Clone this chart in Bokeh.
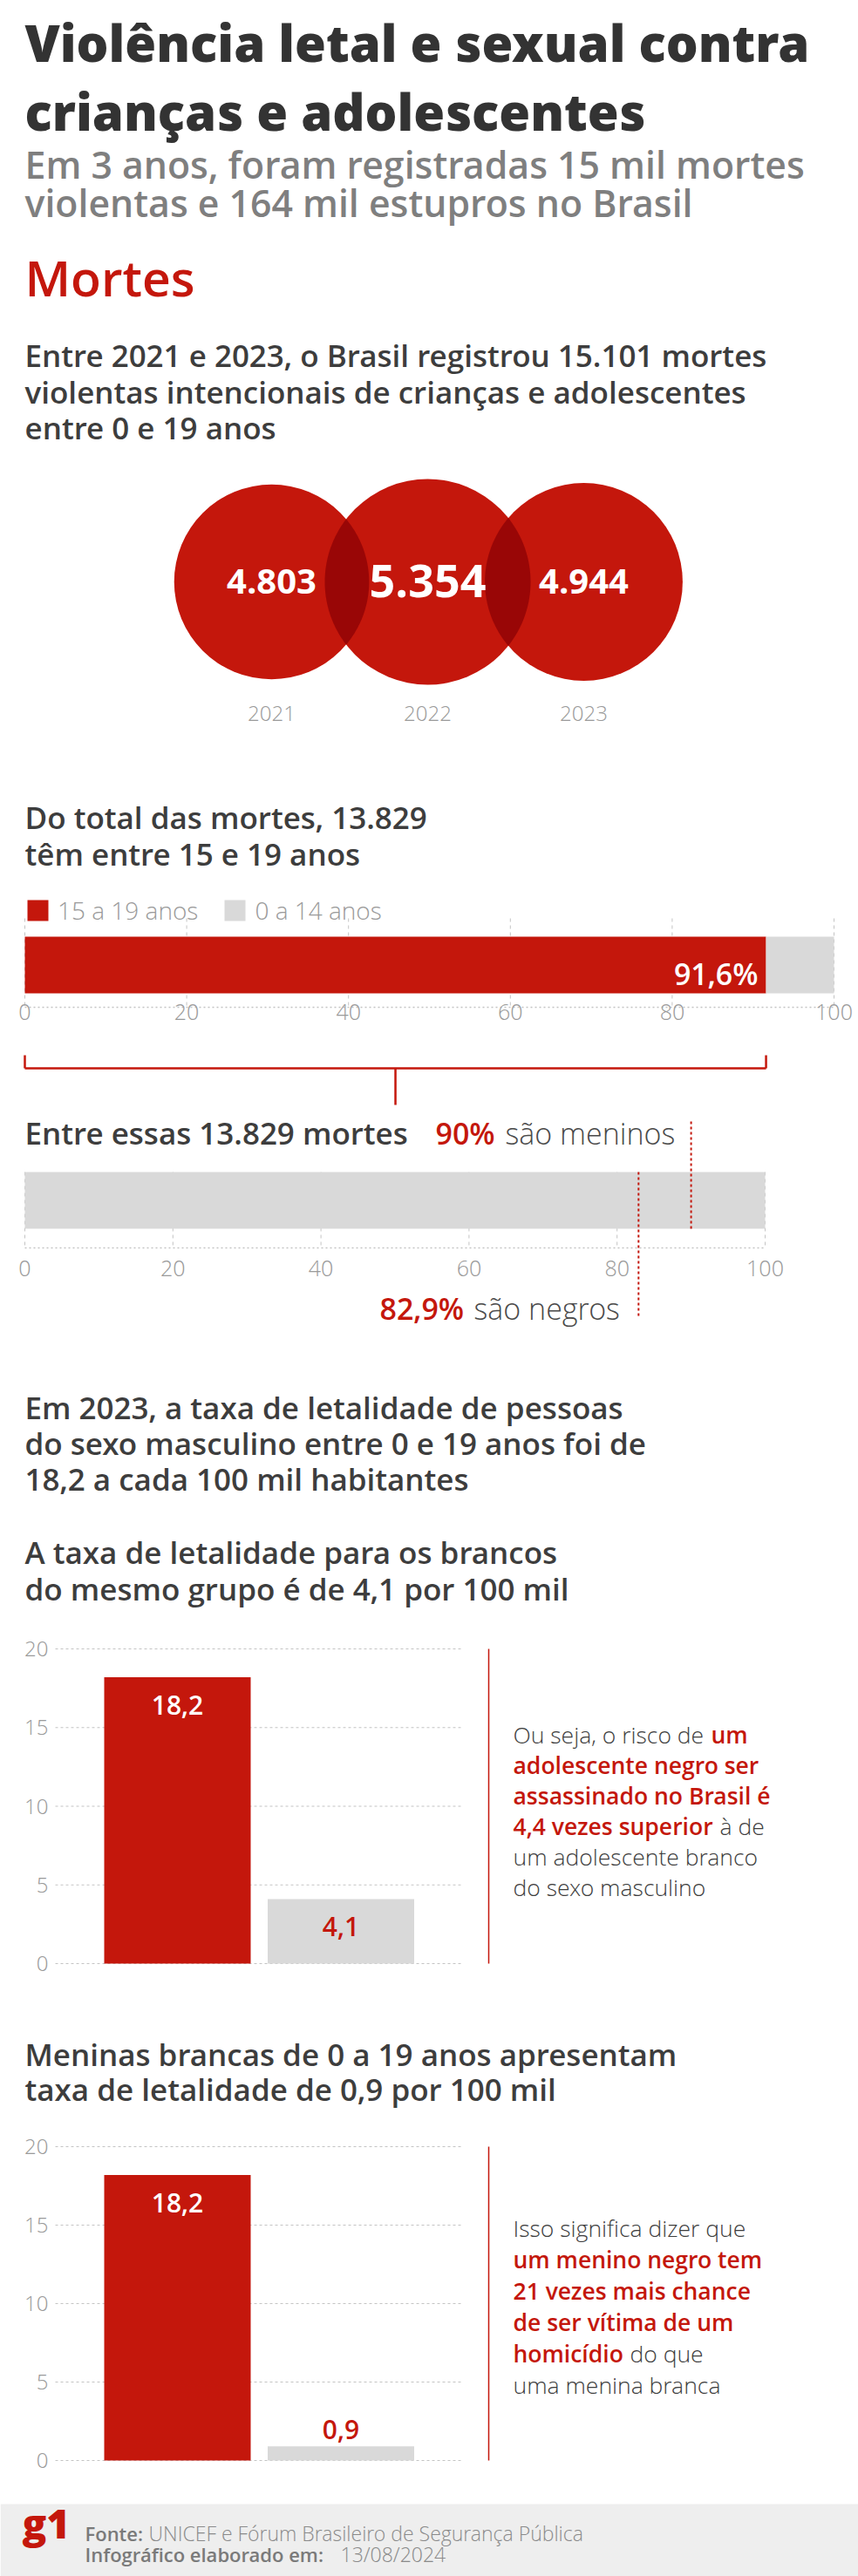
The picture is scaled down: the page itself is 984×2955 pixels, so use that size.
import numpy as np
from bokeh.plotting import figure
from bokeh.models import Range1d, LinearAxis, FixedTicker, Legend, LegendItem
from bokeh.core.properties import value
from bokeh.embed import file_html
from bokeh.resources import INLINE

# ---------------- data ----------------
anos = ["2021", "2022", "2023"]
mortes_por_ano = [4803, 5354, 4944]

faixas_etarias = ["15 a 19 anos", "0 a 14 anos"]
pct_faixas = [91.6, 8.4]

pct_total = [100.0]
pct_meninos = [90.0]
pct_negros = [82.9]
ticks_pct = [0, 20, 40, 60, 80, 100]

grupos_masculino = ["Negros", "Brancos"]
taxa_masculino = [18.2, 4.1]
grupos_comparacao = ["Meninos negros", "Meninas brancas"]
taxa_comparacao = [18.2, 0.9]
ticks_taxa = [0, 5, 10, 15, 20]

# ---------------- style ----------------
RED = "#C4170C"
LENS = "#990606"
DARK = "#333333"
MID = "#3d3d3d"
SUB = "#7f7f7f"
LIGHT = "#9a9a9a"
BARGRAY = "#D9D9D9"
GRID = "#c4c4c4"

F_XB = "'Open Sans ExtraBold', 'Open Sans', sans-serif"
F_SB = "'Open Sans SemiBold', 'Open Sans', sans-serif"
F_B = "'Open Sans', sans-serif"
F_L = "'Open Sans Light', 'Open Sans', sans-serif"

W, H = 984, 2955
PX0, PY0 = 0, 0
PX1, PY1 = PX0 + W, PY0 + H

p = figure(width=W, height=H, x_range=Range1d(PX0, PX1), y_range=Range1d(PY1, PY0),
           output_backend="svg", toolbar_location=None,
           x_axis_location=None, y_axis_location=None, min_border=0)
p.outline_line_color = None
p.background_fill_color = "white"
p.border_fill_color = "white"
p.xgrid.visible = False
p.ygrid.visible = False


def x_scale(px_zero, ppu):
    return Range1d(start=(PX0 - px_zero) / ppu, end=(PX1 - px_zero) / ppu)


def y_scale(py_zero, ppu):
    return Range1d(start=(py_zero - PY1) / ppu, end=(py_zero - PY0) / ppu)


p.extra_x_ranges = {"b1": x_scale(28, 9.28), "b2": x_scale(28, 8.49)}
p.extra_y_ranges = {"v1": y_scale(2252, 18.05), "v2": y_scale(2822, 18.0)}


def T(x, y, s, size, color, font, bold=False, align="left", baseline="alphabetic",
      xr="default", yr="default", dx=0, dy=0):
    p.text(x=[x], y=[y], text=[s], text_font=value(font), text_font_size=f"{size}px",
           text_font_style="bold" if bold else "normal", text_color=color,
           text_align=align, text_baseline=baseline, x_range_name=xr, y_range_name=yr,
           x_offset=dx, y_offset=dy)


def fmt_int(v):
    return f"{v:,}".replace(",", ".")


def fmt_dec(v):
    return f"{v:.1f}".replace(".", ",")


# ---------------- header ----------------
T(28, 48, "Violência letal e sexual contra", 58, DARK, F_XB, True)
T(28, 127, "crianças e adolescentes", 58, DARK, F_XB, True)
T(28, 188, "Em 3 anos, foram registradas 15 mil mortes", 42.8, SUB, F_SB, True)
T(28, 232, "violentas e 164 mil estupros no Brasil", 42.8, SUB, F_SB, True)
T(28, 317, "Mortes", 57, RED, F_SB, True)
for yb, s in zip([407, 449, 490], ["Entre 2021 e 2023, o Brasil registrou 15.101 mortes",
                                   "violentas intencionais de crianças e adolescentes",
                                   "entre 0 e 19 anos"]):
    T(28, yb, s, 35, MID, F_SB, True)

# ---------------- circles ----------------
vals = np.array(mortes_por_ano, dtype=float)
R_MAX = 118
radii = R_MAX * np.sqrt(vals / vals.max())
CX0, CSTEP, CY = 311, 179, 667
cxs = CX0 + CSTEP * np.arange(len(vals))
p.circle(x=cxs, y=CY, radius=radii, fill_color=RED, line_color=None)


def lens(xa, ra, xb, rb, y, n=60):
    d = xb - xa
    xi = (d * d + ra * ra - rb * rb) / (2 * d)
    h = np.sqrt(ra * ra - xi * xi)
    a1 = np.arctan2(h, xi)
    a2 = np.arctan2(h, d - xi)
    t1 = np.linspace(-a1, a1, n)
    t2 = np.linspace(np.pi - a2, np.pi + a2, n)
    xs = np.concatenate([xa + ra * np.cos(t1), xb + rb * np.cos(t2)])
    ys = np.concatenate([y + ra * np.sin(t1), y + rb * np.sin(t2)])
    return list(xs), list(ys)


lx, ly = [], []
for i in range(len(vals) - 1):
    a, b = lens(cxs[i], radii[i], cxs[i + 1], radii[i + 1], CY)
    lx.append(a)
    ly.append(b)
p.patches(xs=lx, ys=ly, fill_color=LENS, line_color=None)

for cx, v, yr_ in zip(cxs, mortes_por_ano, anos):
    T(cx, 666, fmt_int(v), 52 if v == max(mortes_por_ano) else 40, "white", F_B, True, align="center")
    T(cx, 818, yr_, 24, LIGHT, F_L, align="center")

# ---------------- bar 1: idade ----------------
T(28, 937, "Do total das mortes, 13.829", 35, MID, F_SB, True)
T(28, 979, "têm entre 15 e 19 anos", 35, MID, F_SB, True)

BAR_H = 65
BAR1_Y = 1106.5
lefts = np.cumsum([0] + pct_faixas[:-1])
rights = np.cumsum(pct_faixas)
p.segment(x0=ticks_pct, x1=ticks_pct, y0=1053, y1=1155, x_range_name="b1",
          line_color=GRID, line_dash="4 4", line_width=1)
r_a = p.hbar(y=BAR1_Y, left=lefts[0], right=rights[0], height=BAR_H, fill_color=RED,
             line_color=None, x_range_name="b1")
r_b = p.hbar(y=BAR1_Y, left=lefts[1], right=rights[1], height=BAR_H, fill_color=BARGRAY,
             line_color=None, x_range_name="b1")
T(rights[0], 1116, fmt_dec(pct_faixas[0]) + "%", 34, "white", F_SB, True, align="right",
  xr="b1", dx=-9)

leg = Legend(items=[LegendItem(label=faixas_etarias[0], renderers=[r_a]),
                    LegendItem(label=faixas_etarias[1], renderers=[r_b])],
             orientation="horizontal", location=(28 - PX0, PY1 - 1063),
             glyph_width=30, glyph_height=30, label_standoff=8, spacing=27,
             padding=0, margin=0, border_line_color=None, background_fill_alpha=0,
             label_text_font=F_L, label_text_font_size="28px", label_text_color=LIGHT,
             label_height=30)
p.add_layout(leg)


def pct_axis(rng, yfix, standoff):
    ax = LinearAxis(x_range_name=rng, fixed_location=yfix,
                    ticker=FixedTicker(ticks=ticks_pct), bounds=(0, 100))
    ax.axis_line_color = GRID
    ax.axis_line_dash = "2 3"
    ax.axis_line_width = 1.5
    ax.major_tick_line_color = None
    ax.minor_tick_line_color = None
    ax.major_tick_in = 0
    ax.major_tick_out = 0
    ax.minor_tick_in = 0
    ax.minor_tick_out = 0
    ax.major_label_standoff = standoff
    ax.major_label_text_font = F_L
    ax.major_label_text_font_size = "25px"
    ax.major_label_text_color = LIGHT
    p.add_layout(ax, "below")


pct_axis("b1", 1155, -4)

# bracket over the 15-19 share
bx = rights[0]
p.segment(x0=[0, 0, bx, bx / 2], x1=[bx, 0, bx, bx / 2],
          y0=[1225, 1210, 1210, 1225], y1=[1225, 1225, 1225, 1267],
          x_range_name="b1", line_color=RED, line_width=2.5)

# ---------------- bar 2: sexo / raça ----------------
T(28, 1299, "Entre essas 13.829 mortes", 35, MID, F_SB, True)
T(499, 1299, f"{pct_meninos[0]:.0f}%", 34, RED, F_SB, True)
T(579, 1299, "são meninos", 34, "#4a4a4a", F_L)

BAR2_Y = 1376.5
p.segment(x0=ticks_pct, x1=ticks_pct, y0=1344, y1=1431, x_range_name="b2",
          line_color=GRID, line_dash="4 4", line_width=1)
p.hbar(y=BAR2_Y, left=0, right=pct_total[0], height=BAR_H, fill_color=BARGRAY,
       line_color=None, x_range_name="b2")
p.segment(x0=pct_meninos, x1=pct_meninos, y0=1286, y1=1410, x_range_name="b2",
          line_color=RED, line_dash="3 3", line_width=2)
p.segment(x0=pct_negros, x1=pct_negros, y0=1344, y1=1512, x_range_name="b2",
          line_color=RED, line_dash="3 3", line_width=2)
pct_axis("b2", 1431, 14)
T(435, 1500, fmt_dec(pct_negros[0]) + "%", 34, RED, F_SB, True)
T(543, 1500, "são negros", 34, "#4a4a4a", F_L)

# ---------------- taxa de letalidade ----------------
for yb, s in zip([1614, 1655, 1696], ["Em 2023, a taxa de letalidade de pessoas",
                                      "do sexo masculino entre 0 e 19 anos foi de",
                                      "18,2 a cada 100 mil habitantes"]):
    T(28, yb, s, 35, MID, F_SB, True)
T(28, 1780, "A taxa de letalidade para os brancos", 35, MID, F_SB, True)
T(28, 1822, "do mesmo grupo é de 4,1 por 100 mil", 35, MID, F_SB, True)


def vchart(yr, vals, ppu, side):
    cx = [203 + 187.5 * i for i in range(len(vals))]
    p.segment(x0=63, x1=530, y0=ticks_taxa, y1=ticks_taxa, y_range_name=yr,
              line_color=GRID, line_dash="3 3", line_width=1.2)
    p.vbar(x=cx, top=vals, bottom=0, width=168, fill_color=[RED, BARGRAY],
           line_color=None, y_range_name=yr)
    for i, v in enumerate(vals):
        inside = v * ppu > 60
        col = "white" if i == 0 else RED
        T(cx[i], v, fmt_dec(v), 30, col, F_SB, True, align="center", yr=yr,
          dy=32 if inside else -19)
    p.segment(x0=560, x1=560, y0=0, y1=ticks_taxa[-1], y_range_name=yr,
              line_color=RED, line_width=1.5)
    ax = LinearAxis(y_range_name=yr, fixed_location=63, ticker=FixedTicker(ticks=ticks_taxa),
                    bounds=(0, 20))
    ax.axis_line_color = None
    ax.major_tick_line_color = None
    ax.minor_tick_line_color = None
    ax.major_tick_in = 0
    ax.major_tick_out = 0
    ax.minor_tick_in = 0
    ax.minor_tick_out = 0
    ax.major_label_standoff = 8
    ax.major_label_text_font = F_L
    ax.major_label_text_font_size = "24px"
    ax.major_label_text_color = LIGHT
    p.add_layout(ax, "left")
    for (x, yb, s, kind) in side:
        if kind == "b":
            T(x, yb, s, 26.5, RED, F_SB, True)
        else:
            T(x, yb, s, 26.5, MID, F_L)


vchart("v1", taxa_masculino, 18.05, [
    (588, 1989, "Ou seja, o risco de", "l"), (815, 1989, "um", "b"),
    (588, 2024, "adolescente negro ser", "b"),
    (588, 2059, "assassinado no Brasil é", "b"),
    (588, 2094, "4,4 vezes superior", "b"), (825, 2094, "à de", "l"),
    (588, 2129, "um adolescente branco", "l"),
    (588, 2164, "do sexo masculino", "l"),
])

T(28, 2356, "Meninas brancas de 0 a 19 anos apresentam", 35, MID, F_SB, True)
T(28, 2396, "taxa de letalidade de 0,9 por 100 mil", 35, MID, F_SB, True)

vchart("v2", taxa_comparacao, 18.0, [
    (588, 2555, "Isso significa dizer que", "l"),
    (588, 2591, "um menino negro tem", "b"),
    (588, 2627, "21 vezes mais chance", "b"),
    (588, 2663, "de ser vítima de um", "b"),
    (588, 2699, "homicídio", "b"), (722, 2699, "do que", "l"),
    (588, 2735, "uma menina branca", "l"),
])

# ---------------- footer ----------------
p.quad(left=PX0, right=PX1, top=2872, bottom=PY1, fill_color="#eeeeee", line_color=None)
T(25, 2893, "g1", 46, RED, F_XB, True)
T(97, 2905, "Fonte:", 22, "#7a7a7a", F_SB, True)
T(170, 2905, "UNICEF e Fórum Brasileiro de Segurança Pública", 23, "#8a8a8a", F_L)
T(97, 2929, "Infográfico elaborado em:", 22, "#7a7a7a", F_SB, True)
T(390, 2929, "13/08/2024", 23, "#8a8a8a", F_L)

open("out.html", "w").write(file_html(p, INLINE))
